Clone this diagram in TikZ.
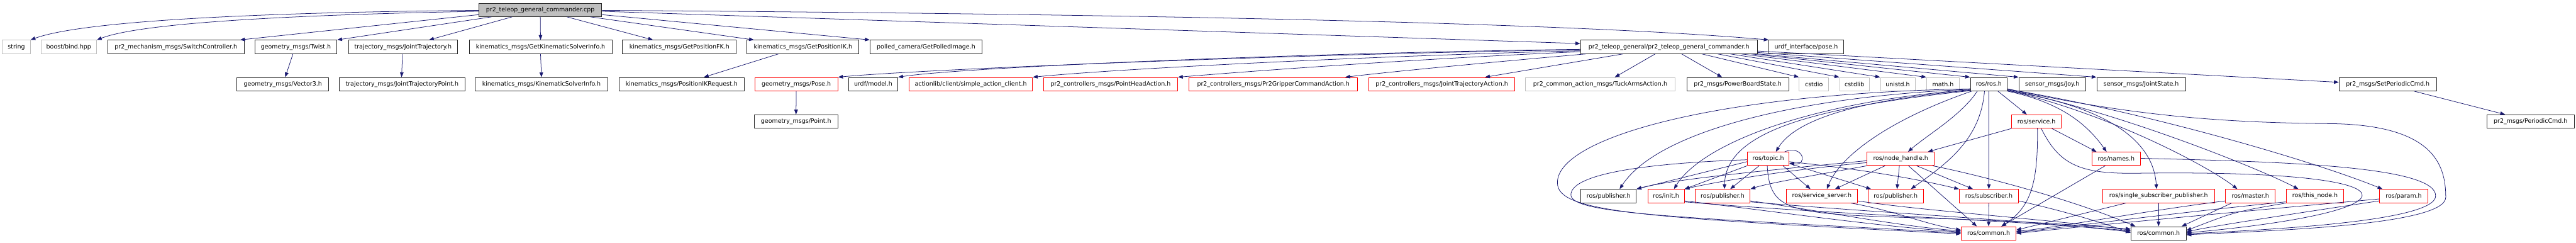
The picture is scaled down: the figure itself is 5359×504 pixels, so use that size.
\documentclass[tikz,border=0pt]{standalone}
\usepackage{fontspec}
\setmainfont{DejaVu Sans}
\usetikzlibrary{arrows.meta}
\definecolor{edgec}{HTML}{191970}
\definecolor{grayb}{HTML}{BFBFBF}
\tikzset{
  box/.style={inner sep=0pt, line width=1.2pt, fill=white, font=\fontsize{12.4}{14}\selectfont, text=black},
  nb/.style={box, draw=black!85},
  nr/.style={box, draw=red},
  ng/.style={box, draw=grayb},
  nroot/.style={box, draw=black!85, fill=grayb},
  e/.style={draw=edgec, line width=1pt, -{Triangle[length=10pt,width=7.5pt]}},
}
\newcommand\nd[6]{\node[#5, minimum width={#3pt-#2pt}, minimum height=28pt] (#1) at ({(#2+#3)/2},#4) {#6};}
\begin{document}
\begin{tikzpicture}[x=1pt,y=-1pt]
\fill[white] (0,0) rectangle (5359,504);
\useasboundingbox (0,0) rectangle (5359,504);
% row 0
\nd{root}{996}{1252}{20.5}{nroot}{pr2\_teleop\_general\_commander.cpp}
% row 1
\nd{str}{5}{63}{97.5}{ng}{string}
\nd{boost}{85}{201}{97.5}{ng}{boost/bind.hpp}
\nd{sw}{224}{508}{97.5}{nb}{pr2\_mechanism\_msgs/SwitchController.h}
\nd{twist}{530}{701}{97.5}{nb}{geometry\_msgs/Twist.h}
\nd{jt}{725}{952}{97.5}{nb}{trajectory\_msgs/JointTrajectory.h}
\nd{gksi}{976}{1273}{97.5}{nb}{kinematics\_msgs/GetKinematicSolverInfo.h}
\nd{gfk}{1295}{1532}{97.5}{nb}{kinematics\_msgs/GetPositionFK.h}
\nd{gik}{1554}{1787}{97.5}{nb}{kinematics\_msgs/GetPositionIK.h}
\nd{polled}{1810}{2043}{97.5}{nb}{polled\_camera/GetPolledImage.h}
\nd{cmd}{3288}{3656}{97.5}{nb}{pr2\_teleop\_general/pr2\_teleop\_general\_commander.h}
\nd{upose}{3680}{3835}{97.5}{nb}{urdf\_interface/pose.h}
% row 2
\nd{vec3}{493}{684}{175}{nb}{geometry\_msgs/Vector3.h}
\nd{jtp}{706}{967}{175}{nb}{trajectory\_msgs/JointTrajectoryPoint.h}
\nd{ksi}{989}{1264}{175}{nb}{kinematics\_msgs/KinematicSolverInfo.h}
\nd{ikreq}{1288}{1548}{175}{nb}{kinematics\_msgs/PositionIKRequest.h}
\nd{pose}{1570}{1743}{175}{nr}{geometry\_msgs/Pose.h}
\nd{model}{1765}{1868}{175}{nb}{urdf/model.h}
\nd{sac}{1891}{2148}{175}{nr}{actionlib/client/simple\_action\_client.h}
\nd{pha}{2171}{2450}{175}{nr}{pr2\_controllers\_msgs/PointHeadAction.h}
\nd{gca}{2474}{2824}{175}{nr}{pr2\_controllers\_msgs/Pr2GripperCommandAction.h}
\nd{jta}{2848}{3151}{175}{nr}{pr2\_controllers\_msgs/JointTrajectoryAction.h}
\nd{tuck}{3173}{3485}{175}{ng}{pr2\_common\_action\_msgs/TuckArmsAction.h}
\nd{pbs}{3509}{3721}{175}{nb}{pr2\_msgs/PowerBoardState.h}
\nd{cstdio}{3743}{3804}{175}{ng}{cstdio}
\nd{cstdlib}{3827}{3889}{175}{ng}{cstdlib}
\nd{unistd}{3912}{3984}{175}{ng}{unistd.h}
\nd{math}{4008}{4076}{175}{ng}{math.h}
\nd{rosh}{4099}{4176}{175}{nb}{ros/ros.h}
\nd{joy}{4200}{4339}{175}{nb}{sensor\_msgs/Joy.h}
\nd{js}{4362}{4547}{175}{nb}{sensor\_msgs/JointState.h}
\nd{spc}{4866}{5069}{175}{nb}{pr2\_msgs/SetPeriodicCmd.h}
% row 3
\nd{point}{1569}{1743}{252.5}{nb}{geometry\_msgs/Point.h}
\nd{service}{4185}{4288}{252.5}{nr}{ros/service.h}
\nd{pcmd}{5174}{5355}{252.5}{nb}{pr2\_msgs/PeriodicCmd.h}
% row 4
\nd{topic}{3635}{3722}{330}{nr}{ros/topic.h}
\nd{nh}{3884}{4024}{330}{nr}{ros/node\_handle.h}
\nd{names}{4352}{4453}{330}{nr}{ros/names.h}
% row 5
\nd{pubb}{3289}{3404}{407.5}{nb}{ros/publisher.h}
\nd{init}{3428}{3504}{407.5}{nr}{ros/init.h}
\nd{pubra}{3526}{3641}{407.5}{nr}{ros/publisher.h}
\nd{ss}{3716}{3864}{407.5}{nr}{ros/service\_server.h}
\nd{pubrb}{3886}{4001}{407.5}{nr}{ros/publisher.h}
\nd{sub}{4076}{4199}{407.5}{nr}{ros/subscriber.h}
\nd{ssp}{4374}{4607}{407.5}{nr}{ros/single\_subscriber\_publisher.h}
\nd{master}{4630}{4733}{407.5}{nr}{ros/master.h}
\nd{thisn}{4756}{4876}{407.5}{nr}{ros/this\_node.h}
\nd{param}{4950}{5051}{407.5}{nr}{ros/param.h}
% row 6
\nd{comr}{4080}{4194}{485}{nr}{ros/common.h}
\nd{comb}{4433}{4548}{485}{nb}{ros/common.h}

% ---- root edges
\draw[e] ([yshift=-1pt]root.west) .. controls (600,25) and (180,40) .. (str.north east);
\draw[e] ([yshift=-3pt]root.west) .. controls (650,30) and (300,45) .. (boost.north east);
\draw[e] ([yshift=-10pt]root.west) -- ([xshift=-9pt]sw.north east);
\draw[e] ([xshift=27pt]root.south west) -- (twist.north east);
\draw[e] ([xshift=70pt]root.south west) -- ([xshift=-60pt]jt.north east);
\draw[e] (root.south) -- (gksi.north);
\draw[e] ([xshift=184pt]root.south west) -- ([xshift=64pt]gfk.north west);
\draw[e] ([xshift=233pt]root.south west) -- ([xshift=15pt]gik.north west);
\draw[e] ([yshift=-10pt]root.east) -- (polled.north west);
\draw[e] ([yshift=-3pt]root.east) -- ([yshift=7pt]cmd.west);
\draw[e] ([yshift=-1pt]root.east) .. controls (2500,30) and (3300,50) .. (upose.north west);

% ---- commander.h edges
\draw[e] ([yshift=-6pt]cmd.west) .. controls (2700,112) and (1900,145) .. (pose.north east);
\draw[e] ([yshift=-5pt]cmd.west) .. controls (2700,110) and (2000,140) .. (model.north east);
\draw[e] ([yshift=-8pt]cmd.west) .. controls (2800,118) and (2300,145) .. (sac.north east);
\draw[e] ([yshift=-10pt]cmd.west) .. controls (2950,122) and (2600,148) .. (pha.north east);
\draw[e] ([xshift=12pt]cmd.south west) .. controls (3150,125) and (2900,148) .. ([xshift=-26pt]gca.north east);
\draw[e] ([xshift=89pt]cmd.south west) -- ([xshift=242pt]jta.north west);
\draw[e] ([xshift=156pt]cmd.south west) -- ([xshift=187pt]tuck.north west);
\draw[e] ([xshift=211pt]cmd.south west) -- ([xshift=74pt]pbs.north west);
\draw[e] ([xshift=253pt]cmd.south west) -- (cstdio.north west);
\draw[e] ([xshift=286pt]cmd.south west) -- (cstdlib.north west);
\draw[e] ([xshift=312pt]cmd.south west) -- (unistd.north west);
\draw[e] ([xshift=335pt]cmd.south west) -- (math.north west);
\draw[e] ([xshift=355pt]cmd.south west) -- (rosh.north west);
\draw[e] (cmd.south east) -- (joy.north west);
\draw[e] ([yshift=3pt]cmd.south east) -- (js.north west);
\draw[e] ([yshift=6pt]cmd.south east) -- ([yshift=4pt]spc.west);

% ---- second level
\draw[e] ([xshift=80pt]twist.south west) -- ([xshift=101pt]vec3.north west);
\draw[e] ([xshift=113pt]jt.south west) -- ([xshift=130pt]jtp.north west);
\draw[e] (gksi.south) -- (ksi.north);
\draw[e] ([xshift=66pt]gik.south west) -- ([xshift=177pt]ikreq.north west);
\draw[e] (pose.south) -- (point.north);
\draw[e] ([xshift=157pt]spc.south west) -- ([xshift=38pt]pcmd.north west);

% ---- ros/ros.h edges
\draw[e] ([xshift=58pt]rosh.south west) -- ([xshift=32pt]service.north west);
\draw[e] ([xshift=15pt]rosh.south west) .. controls (4080,240) and (4010,280) .. ([xshift=86pt]nh.north west);
\draw[e] ([yshift=2pt]rosh.south west) .. controls (3900,205) and (3740,240) .. ([xshift=60pt]topic.north west);
\draw[e] ([xshift=3pt]rosh.south west) .. controls (3940,245) and (3830,320) .. ([xshift=85pt]ss.north west);
\draw[e] ([xshift=30pt]rosh.south west) .. controls (4120,290) and (4050,340) .. ([xshift=90pt]pubrb.north west);
\draw[e] (rosh.south) -- (sub.north);
\draw[e] (rosh.south east) .. controls (4300,215) and (4350,270) .. ([xshift=31pt]names.north west);
\draw[e] ([yshift=1pt]rosh.south east) .. controls (4400,225) and (4480,300) .. ([xshift=113pt]ssp.north west);
\draw[e] ([yshift=2pt]rosh.south east) .. controls (4400,240) and (4600,350) .. ([xshift=25pt]master.north west);
\draw[e] ([yshift=3pt]rosh.south east) .. controls (4400,230) and (4700,350) .. ([xshift=26pt]thisn.north west);
\draw[e] ([yshift=4pt]rosh.south east) .. controls (4450,230) and (4800,330) .. ([xshift=7pt]param.north west);
\draw[e] ([yshift=5pt]rosh.south east) .. controls (4450,245) and (4650,255) .. (4850,257) .. controls (5060,260) and (5088,340) .. (5088,410) .. controls (5088,470) and (4700,480) .. ([yshift=-3pt]comb.east);
\draw[e] ([yshift=4pt]rosh.south west) .. controls (3750,200) and (3450,270) .. ([xshift=81pt]pubb.north west);
\draw[e] ([yshift=3pt]rosh.south west) .. controls (3760,212) and (3540,300) .. ([xshift=55pt]init.north west);
\draw[e] ([yshift=1pt]rosh.south west) .. controls (3750,225) and (3590,280) .. ([xshift=62pt]pubra.north west);
\draw[e] ([yshift=5pt]rosh.south west) .. controls (3550,195) and (3238,290) .. (3240,380) .. controls (3240,440) and (3400,452) .. ([yshift=-1pt]comr.west);

% ---- ros/topic.h edges
\draw[e] ([yshift=-6pt]topic.west) -- (pubb.north east);
\draw[e] (topic.south west) -- (init.north east);
\draw[e] ([xshift=25pt]topic.south west) -- ([xshift=16pt]pubra.north);
\draw[e] ([xshift=75pt]topic.south west) -- ([xshift=51pt]ss.north west);
\draw[e] ([yshift=-10pt]topic.east) -- ([xshift=7pt]pubrb.north west);
\draw[e] ([yshift=-6pt]topic.east) .. controls (3900,355) and (4000,375) .. (sub.north west);
\draw[e] ([xshift=-10pt]topic.north east) .. controls (3752,300) and (3762,345) .. ([yshift=-9pt]topic.east);
\draw[e] ([yshift=-2pt]topic.west) .. controls (3400,340) and (3268,365) .. (3268,405) .. controls (3268,445) and (3500,452) .. ([yshift=1pt]comr.west);
\draw[e] ([xshift=-2pt]topic.south) .. controls (3682,440) and (3720,445) .. (4000,453) .. controls (4250,461) and (4350,470) .. ([yshift=9pt]comb.west);

% ---- ros/node_handle.h edges
\draw[e] ([yshift=-4pt]nh.west) .. controls (3700,352) and (3480,372) .. (pubb.north east);
\draw[e] ([yshift=-8pt]nh.west) .. controls (3700,355) and (3560,380) .. (init.north east);
\draw[e] (nh.south west) .. controls (3800,360) and (3680,380) .. (pubra.north east);
\draw[e] ([xshift=38pt]nh.south west) -- ([xshift=102pt]ss.north west);
\draw[e] ([xshift=68pt]nh.south west) -- ([xshift=61pt]pubrb.north west);
\draw[e] ([xshift=104pt]nh.south west) -- ([xshift=29pt]sub.north west);
\draw[e] ([xshift=87pt]nh.south west) -- ([xshift=33pt]comr.north west);
\draw[e] ([xshift=-4pt]nh.south east) .. controls (4100,360) and (4300,410) .. ([xshift=10pt]comb.north west);

% ---- ros/service.h edges
\draw[e] (service.south west) -- ([xshift=-14pt]nh.north east);
\draw[e] ([xshift=2pt]service.south) .. controls (4240,380) and (4225,430) .. ([xshift=-31pt]comr.north east);
\draw[e] ([xshift=-20pt]service.south east) -- ([xshift=10pt]names.north west);
\draw[e] ([xshift=10pt]service.south) .. controls (4285,345) and (4330,362) .. (4450,360) .. controls (5060,352) and (5040,440) .. ([yshift=1pt]comb.east);

% ---- ros/names.h edges
\draw[e] ([xshift=28pt]names.south west) -- ([xshift=-31pt]comr.north east);
\draw[e] ([yshift=1pt]names.east) .. controls (4750,336) and (5067,345) .. (5067,407) .. controls (5067,462) and (4700,478) .. ([yshift=-1pt]comb.east);

% ---- row 5 to common
\draw[e] ([yshift=-10pt]init.east) .. controls (3700,440) and (3900,470) .. ([yshift=3pt]comr.west);
\draw[e] ([yshift=-12pt]init.east) .. controls (3800,445) and (4200,458) .. ([yshift=5pt]comb.west);
\draw[e] ([yshift=-10pt]pubra.east) .. controls (3800,440) and (3950,470) .. ([yshift=5pt]comr.west);
\draw[e] ([yshift=-12pt]pubra.east) .. controls (3900,442) and (4200,456) .. ([yshift=3pt]comb.west);
\draw[e] ([xshift=-14pt]ss.south east) .. controls (3950,440) and (4000,465) .. ([yshift=7pt]comr.west);
\draw[e] ([yshift=-10pt]ss.east) .. controls (4000,438) and (4250,455) .. ([yshift=7pt]comb.west);
\draw[e] (sub.south) -- (comr.north);
\draw[e] ([yshift=-10pt]sub.east) .. controls (4300,440) and (4380,465) .. ([yshift=1pt]comb.west);
\draw[e] ([xshift=49pt]ssp.south west) -- ([yshift=7pt]comr.east);
\draw[e] (ssp.south) -- (comb.north);
\draw[e] ([yshift=-10pt]master.west) .. controls (4450,440) and (4300,470) .. ([yshift=4pt]comr.east);
\draw[e] ([xshift=13pt]master.south west) -- ([xshift=-10pt]comb.north east);
\draw[e] ([yshift=-12pt]thisn.west) .. controls (4500,445) and (4300,472) .. ([yshift=2pt]comr.east);
\draw[e] (thisn.south west) .. controls (4650,440) .. ([yshift=6pt]comb.east);
\draw[e] ([yshift=-6pt]param.west) .. controls (4600,445) and (4300,474) .. (comr.east);
\draw[e] ([yshift=-10pt]param.west) .. controls (4800,440) and (4600,470) .. ([yshift=3pt]comb.east);
\end{tikzpicture}
\end{document}
